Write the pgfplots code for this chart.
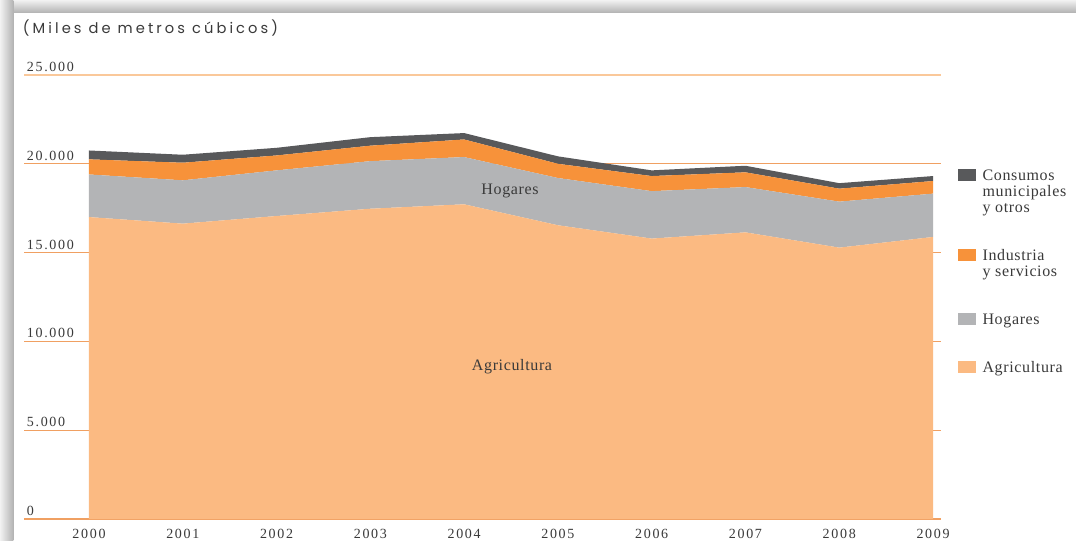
\documentclass[border=0pt]{standalone}
\usepackage{fontspec}
\setmainfont{Liberation Serif}[LetterSpace=4]
\newfontfamily\numfont{Liberation Serif}[LetterSpace=12]
\newfontfamily\titlefont{Poppins}[LetterSpace=21]
\usepackage{pgfplots}
\pgfplotsset{compat=1.18}
\definecolor{agri}{HTML}{FBBA82}
\definecolor{hog}{HTML}{B3B4B6}
\definecolor{ind}{HTML}{F7923A}
\definecolor{cons}{HTML}{58595B}
\definecolor{gridc}{HTML}{F0A062}
\definecolor{gridt}{HTML}{FAC89A}
\definecolor{txt}{HTML}{3A3A3A}
\begin{document}
\begin{tikzpicture}
\useasboundingbox (0,0) rectangle (807pt,405pt);
\fill[white] (0,0) rectangle (807pt,405pt);
\shade[top color=gray!10, bottom color=gray!60] (0pt,395.5pt) rectangle (807pt,405pt);
\shade[left color=gray!10, right color=gray!60] (0pt,0pt) rectangle (10pt,405pt);
\node[anchor=base west, inner sep=0pt, text=txt] at (17pt,379.5pt) {\titlefont\fontsize{11}{12}\selectfont (Miles de metros cúbicos)};
\begin{axis}[
  scale only axis, width=687.75pt, height=333pt,
  at={(18pt,15.75pt)}, anchor=south west,
  xmin=1999.307, xmax=2009.085, ymin=0, ymax=25000,
  stack plots=y,
  scaled y ticks=false,
  axis line style={draw=none}, tick style={draw=none},
  /pgf/number format/assume math mode=true,
  ytick={0,5000,10000,15000,20000},
  yticklabels={0,5.000,10.000,15.000,20.000},
  extra y ticks={25000}, extra y tick labels={25.000},
  extra y tick style={grid style={gridt, line width=1pt}},
  ymajorgrids, grid style={gridc, line width=0.9pt},
  yticklabel style={anchor=base west, inner sep=0pt, xshift=2pt, yshift=2.6pt,
     font=\numfont\fontsize{10.5}{12}\selectfont, text=txt},
  xtick={2000,2001,2002,2003,2004,2005,2006,2007,2008,2009},
  xticklabels={2000,2001,2002,2003,2004,2005,2006,2007,2008,2009},
  xticklabel style={anchor=north, inner sep=0pt, yshift=-7.5pt,
     font=\numfont\fontsize{10.5}{12}\selectfont, text=txt},
  legend style={at={(axis description cs:1.0185,0.789)}, anchor=north west,
     draw=none, fill=none, inner sep=0pt, row sep=23.4pt, column sep=5.25pt,
     cells={anchor=base west},
     nodes={inner sep=0pt, text depth=, font=\fontsize{12}{12}\selectfont, text=txt}},
  legend image code/.code={\fill[#1] (0pt,0pt) rectangle (13pt,9pt);},
  reverse legend,
]
\addplot[fill=agri, draw=none] coordinates {
 (2000,17000) (2001,16630) (2002,17060) (2003,17470) (2004,17720)
 (2005,16540) (2006,15790) (2007,16140) (2008,15280) (2009,15880)} \closedcycle;
\addlegendentry{\begin{tabular}[t]{@{}l@{}}Agricultura\end{tabular}}
\addplot[fill=hog, draw=none] coordinates {
 (2000,2400) (2001,2440) (2002,2570) (2003,2680) (2004,2660)
 (2005,2660) (2006,2670) (2007,2550) (2008,2590) (2009,2440)} \closedcycle;
\addlegendentry{\begin{tabular}[t]{@{}l@{}}Hogares\end{tabular}}
\addplot[fill=ind, draw=none] coordinates {
 (2000,850) (2001,990) (2002,840) (2003,870) (2004,990)
 (2005,800) (2006,850) (2007,830) (2008,730) (2009,710)} \closedcycle;
\addlegendentry{\begin{tabular}[t]{@{}l@{}}Industria\\y servicios\end{tabular}}
\addplot[fill=cons, draw=none] coordinates {
 (2000,500) (2001,450) (2002,430) (2003,480) (2004,360)
 (2005,420) (2006,320) (2007,370) (2008,310) (2009,280)} \closedcycle;
\addlegendentry{\begin{tabular}[t]{@{}l@{}}Consumos\\municipales\\y otros\end{tabular}}
\end{axis}
\node[anchor=base, inner sep=0pt, text=txt, font=\fontsize{12}{12}\selectfont] at (382.5pt,258.75pt) {Hogares};
\node[anchor=base, inner sep=0pt, text=txt, font=\fontsize{12}{12}\selectfont] at (384pt,127.5pt) {Agricultura};
\end{tikzpicture}
\end{document}
